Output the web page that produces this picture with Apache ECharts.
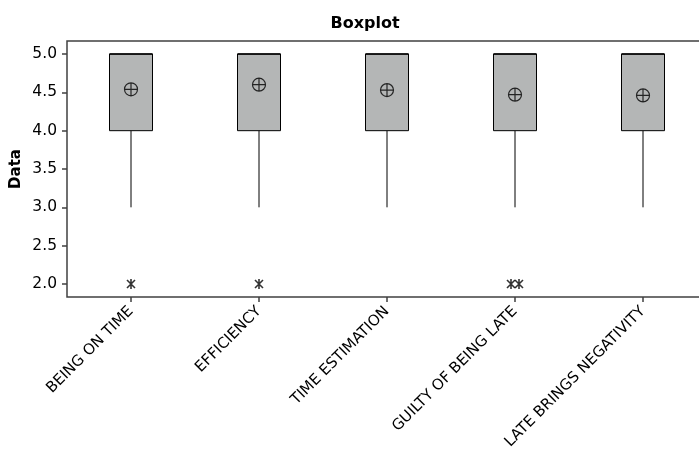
<!DOCTYPE html>
<html>
<head>
<meta charset="utf-8">
<script src="https://cdn.jsdelivr.net/npm/echarts@6/dist/echarts.min.js"></script>
<style>
  html, body { margin: 0; padding: 0; background: #fff; }
  #chart { width: 699px; height: 459px; }
</style>
</head>
<body>
<div id="chart"></div>
<script>
const categories = ['BEING ON TIME', 'EFFICIENCY', 'TIME ESTIMATION', 'GUILTY OF BEING LATE', 'LATE BRINGS NEGATIVITY']
const lowWhisker = [3, 3, 3, 3, 3]
const q1 = [4, 4, 4, 4, 4]
const median = [5, 5, 5, 5, 5]
const q3 = [5, 5, 5, 5, 5]
const highWhisker = [5, 5, 5, 5, 5]
const means = [4.54, 4.60, 4.53, 4.47, 4.46]
// [category index, value]
const outliers = [[0, 2], [1, 2], [3, 2], [3, 2]]
const yTicks = [2.0, 2.5, 3.0, 3.5, 4.0, 4.5, 5.0]

const FONT = 'DejaVu Sans'
const FRAME = '#404040'

const chart = echarts.init(document.getElementById('chart'))

const boxData = categories.map((c, i) => [i, lowWhisker[i], q1[i], median[i], q3[i], highWhisker[i]])
const meanData = means.map((m, i) => [i, m])

// spread coincident outliers sideways a little, like the original
const seen = {}
const outlierData = outliers.map(([i, v]) => {
  const key = i + '_' + v
  const n = outliers.filter(o => o[0] === i && o[1] === v).length
  seen[key] = (seen[key] || 0) + 1
  const k = seen[key] - 1
  const off = n > 1 ? (k - (n - 1) / 2) * 8 : 0
  return { value: [i, v], symbolOffset: [off, 0] }
})

const meanSymbol = 'path://M0,-6A6,6 0 1,1 0,6A6,6 0 1,1 0,-6ZM-6,0L6,0M0,-6L0,6'
const starSymbol = 'path://M0,-5L0,5M-4,-4L4,4M-4,4L4,-4'

chart.setOption({
  animation: false,
  title: {
    text: 'Boxplot',
    left: 360,
    top: 11,
    textAlign: 'center',
    textStyle: { fontFamily: FONT, fontSize: 16, fontWeight: 'bold', color: '#000' }
  },
  grid: {
    left: 67, top: 41, width: 640, bottom: 162,
    outerBoundsMode: 'none',
    containLabel: false,
    show: true, borderColor: FRAME, borderWidth: 1.5, backgroundColor: '#fff'
  },
  xAxis: {
    type: 'category',
    data: categories,
    axisLine: { show: false },
    axisTick: { show: true, alignWithLabel: true, length: 5, lineStyle: { color: FRAME, width: 1.5 } },
    axisLabel: { rotate: 45, interval: 0, margin: 12, fontFamily: FONT, fontSize: 15, color: '#000' },
    splitLine: { show: false }
  },
  yAxis: {
    type: 'value',
    min: 1.83,
    max: 5.17,
    name: 'Data',
    nameLocation: 'middle',
    nameGap: 43,
    nameMoveOverlap: false,
    nameTextStyle: { fontFamily: FONT, fontSize: 15, fontWeight: 'bold', color: '#000' },
    axisLine: { show: false },
    axisTick: { show: true, length: 5, customValues: yTicks, lineStyle: { color: FRAME, width: 1.5 } },
    axisLabel: {
      customValues: yTicks, margin: 10, fontFamily: FONT, fontSize: 15.5, color: '#000',
      formatter: v => v.toFixed(1)
    },
    splitLine: { show: false }
  },
  series: [
    {
      type: 'custom',
      data: boxData,
      encode: { x: 0, y: [1, 2, 3, 4, 5] },
      renderItem: (params, api) => {
        const i = api.value(0)
        const low = api.coord([i, api.value(1)])
        const b1 = api.coord([i, api.value(2)])
        const med = api.coord([i, api.value(3)])
        const b3 = api.coord([i, api.value(4)])
        const high = api.coord([i, api.value(5)])
        const half = 21.5
        const ls = { stroke: '#000', lineWidth: 1 }
        return {
          type: 'group',
          children: [
            { type: 'line', shape: { x1: low[0], y1: low[1], x2: b1[0], y2: b1[1] }, style: ls },
            { type: 'line', shape: { x1: b3[0], y1: b3[1], x2: high[0], y2: high[1] }, style: ls },
            {
              type: 'rect',
              shape: { x: b1[0] - half, y: b3[1], width: half * 2, height: b1[1] - b3[1] },
              style: { fill: '#b4b6b6', stroke: '#000', lineWidth: 1 }
            },
            { type: 'line', shape: { x1: med[0] - half, y1: med[1], x2: med[0] + half, y2: med[1] }, style: { stroke: '#000', lineWidth: 1.5 } }
          ]
        }
      }
    },
    {
      type: 'scatter',
      data: meanData,
      symbol: meanSymbol,
      symbolSize: 13,
      symbolKeepAspect: true,
      itemStyle: { color: 'none', borderColor: '#000', borderWidth: 1.2 },
      z: 5
    },
    {
      type: 'scatter',
      data: outlierData,
      symbol: starSymbol,
      symbolSize: 10,
      symbolKeepAspect: true,
      itemStyle: { color: 'none', borderColor: '#000', borderWidth: 1.6 },
      z: 5
    }
  ]
})
</script>
</body>
</html>
